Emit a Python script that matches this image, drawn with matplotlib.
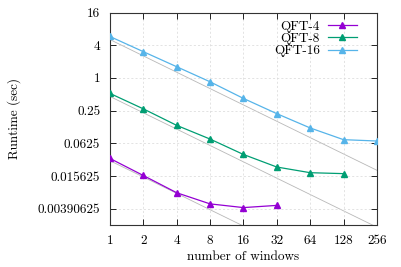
import matplotlib
matplotlib.use("Agg")
import matplotlib.pyplot as plt
from matplotlib.ticker import FixedLocator, FixedFormatter, NullLocator

windows = [1, 2, 4, 8, 16, 32, 64, 128, 256]
qft4 = [0.033, 0.016, 0.0077, 0.0048, 0.0041, 0.0045]
qft8 = [0.52, 0.27, 0.134, 0.075, 0.039, 0.0229, 0.018, 0.0173]
qft16 = [5.8, 3.05, 1.61, 0.85, 0.42, 0.22, 0.12, 0.073, 0.069]
ideal_start = [0.030, 0.457, 5.1]

series = [("QFT-4", qft4, "#9400D3"), ("QFT-8", qft8, "#009E73"), ("QFT-16", qft16, "#56B4E9")]
yticks = [16, 4, 1, 0.25, 0.0625, 0.015625, 0.00390625]
ytick_labels = ["16", "4", "1", "0.25", "0.0625", "0.015625", "0.00390625"]

plt.rcParams['font.family'] = ['cmr10', 'DejaVu Serif']
plt.rcParams['axes.formatter.use_mathtext'] = True

fs = 9.5
fig = plt.figure(figsize=(4.01, 2.67), dpi=100)
ax = fig.add_axes([0.274, 0.157, 0.666, 0.796])
ax.set_xscale('log', base=2)
ax.set_yscale('log', base=2)

for c in ideal_start:
    ax.plot(windows, [c / w for w in windows], color='#b8b8b8', lw=0.6, zorder=1)

for name, vals, col in series:
    ax.plot(windows[:len(vals)], vals, color=col, lw=0.9, marker='^', markersize=4.8,
            label=name, zorder=3)

ax.set_xlim(1, 256)
ax.set_ylim(2 ** -9, 16)
ax.xaxis.set_major_locator(FixedLocator(windows))
ax.xaxis.set_major_formatter(FixedFormatter([str(w) for w in windows]))
ax.xaxis.set_minor_locator(NullLocator())
ax.yaxis.set_major_locator(FixedLocator(yticks))
ax.yaxis.set_major_formatter(FixedFormatter(ytick_labels))
ax.yaxis.set_minor_locator(NullLocator())
ax.tick_params(direction='in', length=4, width=0.6, top=True, right=True,
               labelsize=fs, colors='black')
ax.tick_params(axis='y', pad=7)
ax.tick_params(axis='x', pad=7)
ax.grid(True, linestyle=(0, (3, 3)), color='#d8d8d8', lw=0.5, zorder=0)
for s in ax.spines.values():
    s.set_linewidth(0.8)
    s.set_color('#333333')

ax.set_xlabel("number of windows", fontsize=fs, labelpad=3)
ax.set_ylabel("Runtime (sec)", fontsize=fs, labelpad=12)

leg = ax.legend(loc='upper right', frameon=False, markerfirst=False, alignment='right',
                fontsize=fs, handlelength=2.2, labelspacing=0.0, borderaxespad=0.4,
                handletextpad=0.6, borderpad=0.2, bbox_to_anchor=(0.955, 1.0))

fig.savefig("out.png", dpi=100)
